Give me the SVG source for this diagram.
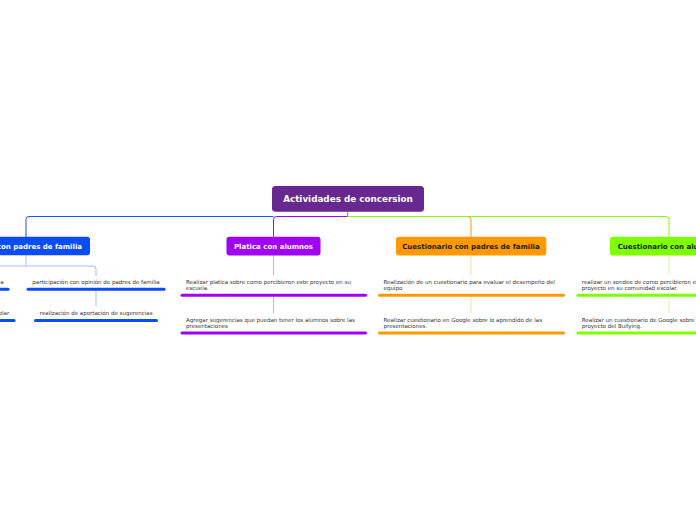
<svg xmlns="http://www.w3.org/2000/svg" width="696" height="520" viewBox="0 0 696 520">
<style>
.nt{font-family:"DejaVu Sans","Verdana",sans-serif;font-weight:bold;font-size:7px}
.rt{font-family:"DejaVu Sans","Verdana",sans-serif;font-weight:bold;font-size:8.8px;fill:#fff}
.ct{font-family:"DejaVu Sans","Verdana",sans-serif;font-size:5.5px;fill:#333}
.c{fill:none;stroke-width:1}
.bar{stroke-width:3;stroke-linecap:round;fill:none}
</style>
<rect width="696" height="520" fill="#fff"/>
<g id="connectors">
<path class="c" stroke="#8a8a20" d="M347.7 211.7 V216.5"/>
<path class="c" stroke="#1a4fff" d="M273.5 216.5 H29 Q26 216.5 26 219.5 V237"/>
<path class="c" stroke="#a000ff" d="M347.7 216.5 H276.5 Q273.5 216.5 273.5 219.5 V237"/>
<path class="c" stroke="#80ff00" d="M347.7 216.5 H666 Q669 216.5 669 219.5 V237"/>
<path class="c" stroke="#ff9900" d="M468 216.5 Q471 216.5 471 219.5 V237"/>
<path class="c" stroke="#d9a6ff" d="M273.5 255.5 V275 M273.5 297 V313"/>
<path class="c" stroke="#ffd699" d="M471 255.5 V275 M471 297 V313"/>
<path class="c" stroke="#ccff99" d="M669 255.5 V275 M669 297 V313"/>
<path class="c" stroke="#a8bdff" d="M26 255 V266 M0 266 H93 Q96 266 96 269 V276 M96 290.5 V306.5"/>
</g>
<g id="root">
<rect x="272" y="186" width="152" height="25.7" rx="3.5" fill="#67288f"/>
<text class="rt" x="348" y="202.2" text-anchor="middle">Actividades de concersion</text>
</g>
<g id="n-blue">
<rect x="-40" y="236.8" width="130" height="18.4" rx="3" fill="#0a4cf5"/>
<text class="nt" x="82" y="248.5" text-anchor="end" fill="#fff">con padres de familia</text>
</g>
<g id="n-purple">
<rect x="226.5" y="236.8" width="94" height="18.7" rx="3" fill="#a000f5"/>
<text class="nt" x="273.5" y="248.5" text-anchor="middle" fill="#fff">Platica con alumnos</text>
</g>
<g id="n-orange">
<rect x="396" y="236.8" width="150.3" height="18.7" rx="3" fill="#ff9900"/>
<text class="nt" x="471" y="248.5" text-anchor="middle" fill="#1a1a1a">Cuestionario con padres de familia</text>
</g>
<g id="n-green">
<rect x="610" y="236.8" width="100" height="18.7" rx="3" fill="#80ff00"/>
<text class="nt" x="617.7" y="248.5" fill="#1a1a1a">Cuestionario con alu</text>
</g>
<g id="b1">
<text class="ct" x="3.5" y="284.2" text-anchor="end">a</text>
<path class="bar" stroke="#0a4cf5" d="M-2 289.3 H8"/>
</g>
<g id="b2">
<text class="ct" x="9.2" y="314.6" text-anchor="end">olar</text>
<path class="bar" stroke="#0a4cf5" d="M-2 320.5 H14"/>
</g>
<g id="b3">
<text class="ct" x="32.3" y="284.2">participación con opinión de padres de familia</text>
<path class="bar" stroke="#0a4cf5" d="M28 289.3 H164"/>
</g>
<g id="b4">
<text class="ct" x="39.8" y="314.6">realización de aportación de sugerencias</text>
<path class="bar" stroke="#0a4cf5" d="M35.5 320.5 H156.5"/>
</g>
<g id="p1">
<text class="ct" x="186"><tspan x="186" y="284.3">Realizar platica sobre como percibieron este proyecto en su</tspan><tspan x="186" y="290.3">escuela.</tspan></text>
<path class="bar" stroke="#a000f5" d="M182 295.3 H365.5"/>
</g>
<g id="p2">
<text class="ct"><tspan x="186" y="322">Agregar sugerencias que puedan tener los alumnos sobre las</tspan><tspan x="186" y="328.2">presentaciones</tspan></text>
<path class="bar" stroke="#a000f5" d="M182 333 H365.5"/>
</g>
<g id="o1">
<text class="ct"><tspan x="383.5" y="284.3">Realización de un cuestionario para evaluar el desempeño del</tspan><tspan x="383.5" y="290.3">equipo</tspan></text>
<path class="bar" stroke="#ff9900" d="M379.5 295.3 H563.5"/>
</g>
<g id="o2">
<text class="ct"><tspan x="383.5" y="322">Realizar cuestionario en Google sobre lo aprendido de las</tspan><tspan x="383.5" y="328.2">presentaciones.</tspan></text>
<path class="bar" stroke="#ff9900" d="M379.5 333 H563.5"/>
</g>
<g id="g1">
<text class="ct"><tspan x="581.8" y="284.3">realizar un sondeo de como percibieron e</tspan><tspan x="581.8" y="290.3">proyecto en su comunidad escolar.</tspan></text>
<path class="bar" stroke="#80ff00" d="M578 295.3 H700"/>
</g>
<g id="g2">
<text class="ct"><tspan x="581.8" y="322">Realizar un cuestionario de Google sobre</tspan><tspan x="581.8" y="328.2">proyecto del Bullying.</tspan></text>
<path class="bar" stroke="#80ff00" d="M578 333 H700"/>
</g>
</svg>
